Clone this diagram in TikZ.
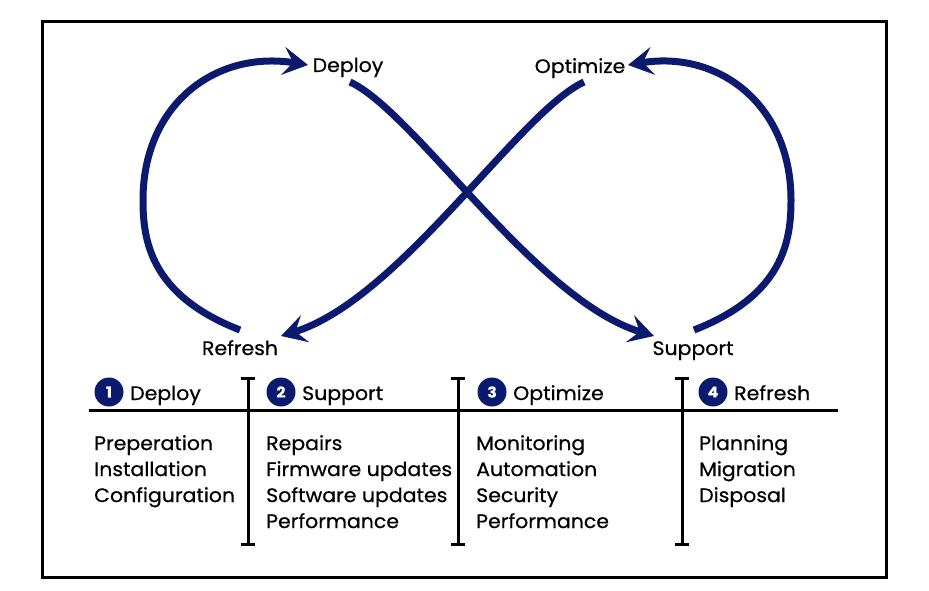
\documentclass[tikz,border=0pt]{standalone}
\usepackage{fontspec}
\setmainfont{Poppins}[FakeStretch=1.05,FakeBold=0.6]
\usetikzlibrary{arrows.meta}
\definecolor{navy}{HTML}{0B1A6E}

\begin{document}
\begin{tikzpicture}[x=1pt,y=-1pt,font=\fontsize{19.5}{26}\selectfont,
  cycle/.style={navy,line width=7pt},
  tip/.style={-{Stealth[length=25pt,width=28pt,inset=10pt]}},
  num/.style={circle,fill=navy,text=white,minimum size=29pt,inner sep=0pt,
    font=\fontsize{15}{15}\selectfont\bfseries},
  post/.style={line width=3pt}]
  \useasboundingbox (0,0) rectangle (929,591);
  \draw[line width=3pt] (42,22) rectangle (886,577);
  % phase labels round the loop
  \node[anchor=base] (deploy) at (348,72) {Deploy};
  \node[anchor=base] (optimize) at (580,73) {Optimize};
  \node[anchor=base] (refresh) at (240,355) {Refresh};
  \node[anchor=base] (support) at (693,355) {Support};
  \coordinate (refresh-out) at (240,330); \coordinate (deploy-in) at (308,65);
  \coordinate (deploy-out) at (350,82);   \coordinate (support-in) at (654,336);
  \coordinate (support-out) at (694,330); \coordinate (optimize-in) at (628,65);
  \coordinate (optimize-out) at (584,82); \coordinate (refresh-in) at (281,336);
  % the infinity loop
  \draw[cycle,tip] (refresh-out) .. controls (150,295) and (143,240) .. (143,200)
    .. controls (143,105) and (215,50) .. (deploy-in);
  \draw[cycle,tip] (deploy-out) .. controls (415,112) and (535,300) .. (support-in);
  \draw[cycle,tip] (support-out) .. controls (784,295) and (791,240) .. (791,200)
    .. controls (791,105) and (719,50) .. (optimize-in);
  \draw[cycle,tip] (optimize-out) .. controls (519,112) and (399,300) .. (refresh-in);
  % table of phases
  \draw[post] (89,410) -- (838,410);
  \foreach \x in {248,458,682}
    \draw[post] (\x-7,378) -- (\x+7,378) (\x,378) -- (\x,544) (\x-7,544) -- (\x+7,544);
  \foreach \x/\n/\t in {109/1/Deploy,281/2/Support,492/3/Optimize,713/4/Refresh}{
    \node[num] (num\n) at (\x,392) {\n};
    \node[anchor=base west,inner sep=0pt] (head\n) at (\x+21,400) {\t};
  }
  \node[anchor=north west,align=left,inner sep=0pt] (list1) at (94,435)
    {Preperation\\Installation\\Configuration};
  \node[anchor=north west,align=left,inner sep=0pt] (list2) at (266,435)
    {Repairs\\Firmware updates\\Software updates\\Performance};
  \node[anchor=north west,align=left,inner sep=0pt] (list3) at (476,435)
    {Monitoring\\Automation\\Security\\Performance};
  \node[anchor=north west,align=left,inner sep=0pt] (list4) at (699,435)
    {Planning\\Migration\\Disposal};
\end{tikzpicture}
\end{document}
